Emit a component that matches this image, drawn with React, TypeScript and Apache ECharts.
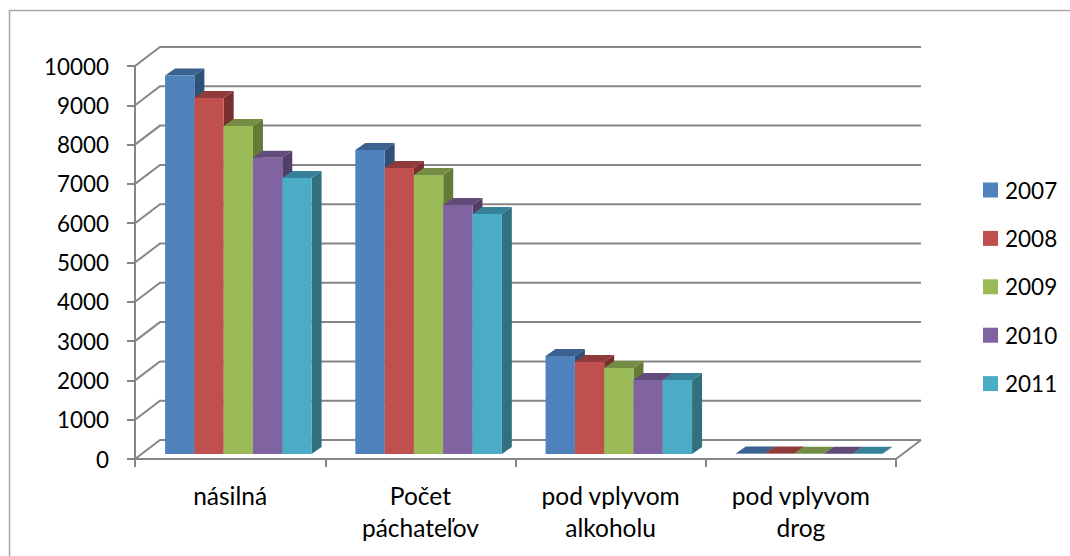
import React, { useEffect, useRef } from "react";
import * as echarts from "echarts";

const categories = ["násilná", "Počet\npáchateľov", "pod vplyvom\nalkoholu", "pod vplyvom\ndrog"];
const years = ["2007", "2008", "2009", "2010", "2011"];
const v2007 = [9630, 7735, 2495, 12];
const v2008 = [9060, 7280, 2340, 10];
const v2009 = [8345, 7100, 2190, 9];
const v2010 = [7540, 6335, 1885, 8];
const v2011 = [7025, 6105, 1885, 8];
const seriesValues = [v2007, v2008, v2009, v2010, v2011];
const frontColors = ["#4F81BD", "#C0504D", "#9BBB59", "#8064A2", "#4BACC6"];
const topColors = ["#3A6190", "#8E3B39", "#748C43", "#604B79", "#38819A"];
const sideColors = ["#2F5078", "#782F2D", "#667A38", "#503F66", "#31707F"];
const yTicks = [0, 1000, 2000, 3000, 4000, 5000, 6000, 7000, 8000, 9000, 10000];

const FONT = "Lato, sans-serif";
const AXIS = "#868686";
const WALL_DX = 25;
const WALL_DY = 19;
const BAR_W = 29.3;
const DEPTH_X = 10;
const DEPTH_Y = 7;
const FLOOR_DY = 5;
const GROUP_SHIFT = 8.2;
const GRID = { left: 135, top: 66, width: 761, height: 393 };

export default function App() {
  const ref = useRef<HTMLDivElement>(null);
  useEffect(() => {
    const chart = echarts.init(ref.current!, null, { renderer: "svg" });
    const wallStyle = { stroke: AXIS, lineWidth: 2, fill: "none" };
    const wall: any = {
      type: "custom",
      silent: true,
      z: 1,
      clip: false,
      data: yTicks.map((t) => [0, t]),
      encode: { x: 0, y: 1 },
      renderItem: (_p: any, api: any) => {
        const y = api.coord([0, api.value(1)])[1];
        const x0 = GRID.left;
        const x1 = GRID.left + GRID.width;
        const children: any[] = [
          {
            type: "polyline",
            shape: { points: [[x0, y], [x0 + WALL_DX, y - WALL_DY], [x1 + WALL_DX, y - WALL_DY]] },
            style: wallStyle,
          },
        ];
        if (api.value(1) === 0) {
          children.push({
            type: "line",
            shape: { x1: x1, y1: y, x2: x1 + WALL_DX, y2: y - WALL_DY },
            style: wallStyle,
          });
        }
        return { type: "group", children };
      },
    };
    const bars: any[] = years.map((name, si) => ({
      type: "custom",
      name,
      z: 3 + si,
      clip: false,
      silent: true,
      itemStyle: { color: frontColors[si] },
      data: seriesValues[si].map((v, i) => [i, v]),
      encode: { x: 0, y: 1 },
      renderItem: (_p: any, api: any) => {
        const top = api.coord([api.value(0), api.value(1)]);
        const base = api.coord([api.value(0), 0]);
        const x = top[0] + GROUP_SHIFT + (si - 2.5) * BAR_W;
        const yT = top[1] - FLOOR_DY;
        const yB = base[1] - FLOOR_DY;
        const xR = x + BAR_W;
        return {
          type: "group",
          children: [
            {
              type: "polygon",
              shape: { points: [[xR, yT], [xR + DEPTH_X, yT - DEPTH_Y], [xR + DEPTH_X, yB - DEPTH_Y], [xR, yB]] },
              style: { fill: sideColors[si] },
            },
            {
              type: "polygon",
              shape: { points: [[x, yT], [x + DEPTH_X, yT - DEPTH_Y], [xR + DEPTH_X, yT - DEPTH_Y], [xR, yT]] },
              style: { fill: topColors[si] },
            },
            {
              type: "rect",
              shape: { x, y: yT, width: BAR_W, height: yB - yT },
              style: { fill: frontColors[si] },
            },
          ],
        };
      },
    }));
    chart.setOption({
      animation: false,
      backgroundColor: "#ffffff",
      grid: { ...GRID, containLabel: false },
      graphic: [
        {
          type: "rect",
          silent: true,
          z: 0,
          shape: { x: 9.5, y: 10.5, width: 1200, height: 700 },
          style: { fill: "none", stroke: "#A6A6A6", lineWidth: 1.5 },
        },
      ],
      legend: {
        orient: "vertical",
        left: 978,
        top: 172,
        itemWidth: 15,
        itemHeight: 15,
        itemGap: 22.4,
        icon: "rect",
        selectedMode: false,
        data: years,
        textStyle: { fontFamily: FONT, fontSize: 22.5, color: "#000000", lineHeight: 26, padding: [0, 0, 0, 2] },
      },
      xAxis: {
        type: "category",
        data: categories,
        boundaryGap: true,
        axisLine: { lineStyle: { color: AXIS, width: 2 } },
        axisTick: { show: true, alignWithLabel: false, length: 8, lineStyle: { color: AXIS, width: 2 } },
        axisLabel: { fontFamily: FONT, fontSize: 24.5, color: "#000000", margin: 20, lineHeight: 32, interval: 0 },
        splitLine: { show: false },
      },
      yAxis: {
        type: "value",
        min: 0,
        max: 10000,
        interval: 1000,
        axisLine: { show: true, lineStyle: { color: AXIS, width: 2 } },
        axisTick: { show: true, length: 8, lineStyle: { color: AXIS, width: 2 } },
        axisLabel: {
          fontFamily: FONT,
          fontSize: 22.4,
          color: "#000000",
          margin: 26,
          formatter: (v: number) => String(v),
        },
        splitLine: { show: false },
      },
      series: [wall, ...bars],
    });
    return () => chart.dispose();
  }, []);
  return (
    <div
      ref={ref}
      style={{ position: "absolute", left: 0, top: 0, width: 1070, height: 556 }}
    />
  );
}
